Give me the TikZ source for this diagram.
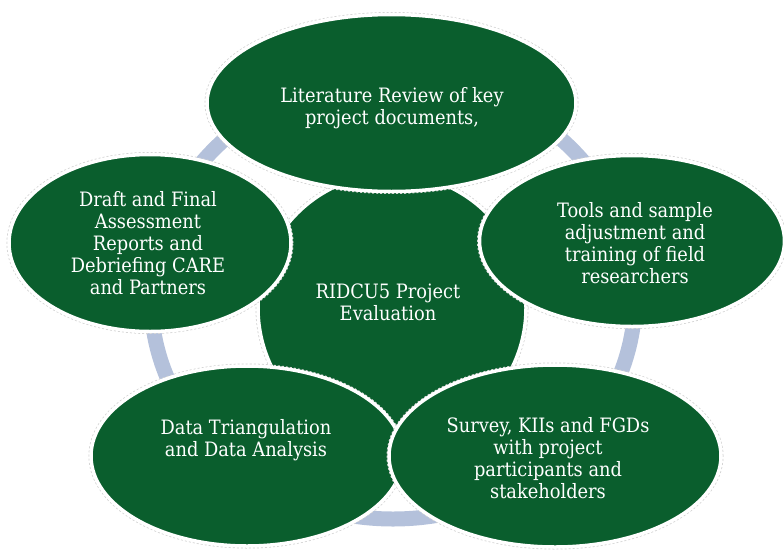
\documentclass[tikz,border=0pt]{standalone}
\usepackage{tikz}
\usetikzlibrary{shapes.geometric}
\usepackage{xcolor}
\usepackage{fontspec}
\setmainfont{DejaVu Serif Condensed}

\definecolor{stagegreen}{RGB}{10,94,45}
\definecolor{ringblue}{RGB}{180,193,219}

\begin{document}
\begin{tikzpicture}[x=1pt, y=-1pt,
	stage/.style={ellipse, fill=stagegreen, draw=white, line width=3.5pt, inner sep=0pt,
		preaction={draw=black!18, line width=5pt, dash pattern=on 2pt off 2pt}},
	stagetext/.style={text=white, align=center, inner sep=0pt,
		font=\fontsize{19.8}{22}\selectfont}]
	\useasboundingbox (0,0) rectangle (784,549);
%	centres of the ring, the hub and the five stages
	\coordinate (O) at (393,298);
	\coordinate (H) at (392,308);
	\coordinate (L) at (391.5,103);
	\coordinate (T) at (632,241);
	\coordinate (D) at (150,243);
	\coordinate (A) at (247,456);
	\coordinate (S) at (555,456);
	% ring behind everything
	\draw [ringblue, line width=15pt] (O) ellipse [x radius=242, y radius=221];
	\node [stage, circle, minimum size=268pt] (hub) at (H) {};
	\node [stage, minimum width=369pt, minimum height=177pt] (lit) at (L) {};
	\node [stage, minimum width=305pt, minimum height=171pt] (tools) at (T) {};
	\node [stage, minimum width=282pt, minimum height=177pt] (draft) at (D) {};
	\node [stage, minimum width=312pt, minimum height=180pt] (tri) at (A) {};
	\node [stage, minimum width=332pt, minimum height=182pt] (survey) at (S) {};
	% texts
	\node [stagetext] (hub-txt) at (388,302) {RIDCU5 Project\\Evaluation};
	\node [stagetext] (lit-txt) at (392,108) {Literature Review of key\\project documents,};
	\node [stagetext] (tools-txt) at (635,243) {Tools and sample\\adjustment and\\training of field\\researchers};
	\node [stagetext] (draft-txt) at (148,243) {Draft and Final\\Assessment\\Reports and\\Debriefing CARE\\and Partners};
	\node [stagetext] (tri-txt) at (246,440) {Data Triangulation\\and Data Analysis};
	\node [stagetext] (survey-txt) at (548,458) {Survey, KIIs and FGDs\\with project\\participants and\\stakeholders};

\end{tikzpicture}
\end{document}
